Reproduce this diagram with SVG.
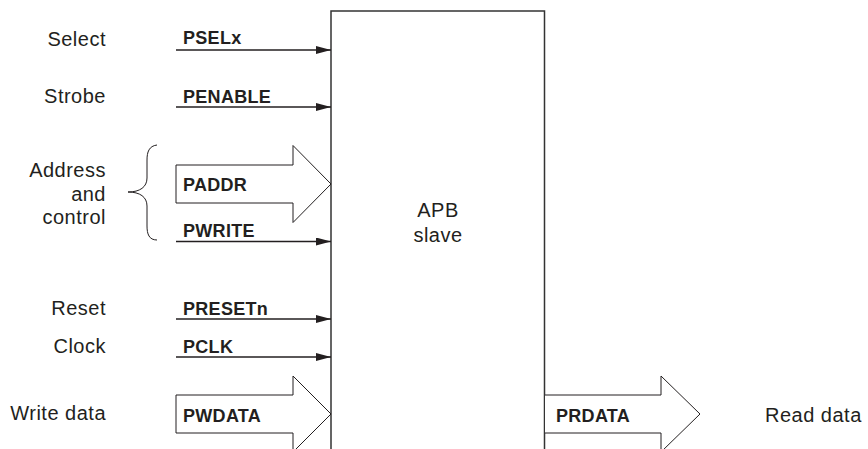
<svg xmlns="http://www.w3.org/2000/svg" width="868" height="449" viewBox="0 0 868 449">
<style>
.lbl{font-family:"Liberation Sans",Arial,sans-serif;font-size:20px;letter-spacing:0.5px;fill:#231f20;}
.r{text-anchor:end;}
.sig{font-family:"Liberation Sans",Arial,sans-serif;font-size:18px;font-weight:bold;letter-spacing:0.3px;fill:#231f20;}
.wire{stroke:#231f20;stroke-width:1.3;fill:none;marker-end:url(#ah);}
.bus{stroke:#231f20;stroke-width:1;fill:#fff;}
.box{stroke:#333;stroke-width:1.5;fill:none;}
</style>
<defs>
<marker id="ah" markerUnits="userSpaceOnUse" markerWidth="15" markerHeight="8" refX="15" refY="4" orient="auto">
<path d="M0,0 L15,4 L0,8 z" fill="#231f20"/>
</marker>
</defs>
<rect width="868" height="449" fill="#fff"/>
<g id="apb-slave">
<path class="box" d="M331,460 V11 H544.5 V460"/>
<text class="lbl" x="438" y="217" text-anchor="middle">APB</text>
<text class="lbl" x="438" y="242" text-anchor="middle">slave</text>
</g>
<g id="labels">
<text class="lbl r" x="106" y="45.5">Select</text>
<text class="lbl r" x="106" y="103">Strobe</text>
<text class="lbl r" x="106" y="177">Address</text>
<text class="lbl r" x="106" y="201">and</text>
<text class="lbl r" x="106" y="224">control</text>
<text class="lbl r" x="106" y="315">Reset</text>
<text class="lbl r" x="106" y="353">Clock</text>
<text class="lbl r" x="106" y="420">Write data</text>
<text class="lbl" x="765" y="422">Read data</text>
<path d="M157,145 C149,146 147,152 147,160 L147,178 C147,187 140,192 128,192 C140,192 147,197 147,206 L147,226 C147,234 149,240 157,240" fill="none" stroke="#231f20" stroke-width="1"/>
</g>
<g id="connectors">
<path class="wire" d="M176,50 H331"/>
<path class="wire" d="M176,107 H331"/>
<path class="wire" d="M176,241.5 H331"/>
<path class="wire" d="M176,319 H331"/>
<path class="wire" d="M176,357 H331"/>
<path class="bus" d="M176,165 H293 V145.5 L331,184 L293,222.5 V203 H176 Z"/>
<path class="bus" d="M176,395 H293 V376 L331,414 L293,452 V433 H176 Z"/>
<path class="bus" d="M545,395 H661 V376 L700,414 L661,452 V433 H545"/>
</g>
<g id="signal-names">
<text class="sig" x="183" y="44">PSELx</text>
<text class="sig" x="183" y="103">PENABLE</text>
<text class="sig" x="183" y="191">PADDR</text>
<text class="sig" x="183" y="237">PWRITE</text>
<text class="sig" x="183" y="315">PRESETn</text>
<text class="sig" x="183" y="353">PCLK</text>
<text class="sig" x="183" y="422">PWDATA</text>
<text class="sig" x="556" y="422">PRDATA</text>
</g>
</svg>
